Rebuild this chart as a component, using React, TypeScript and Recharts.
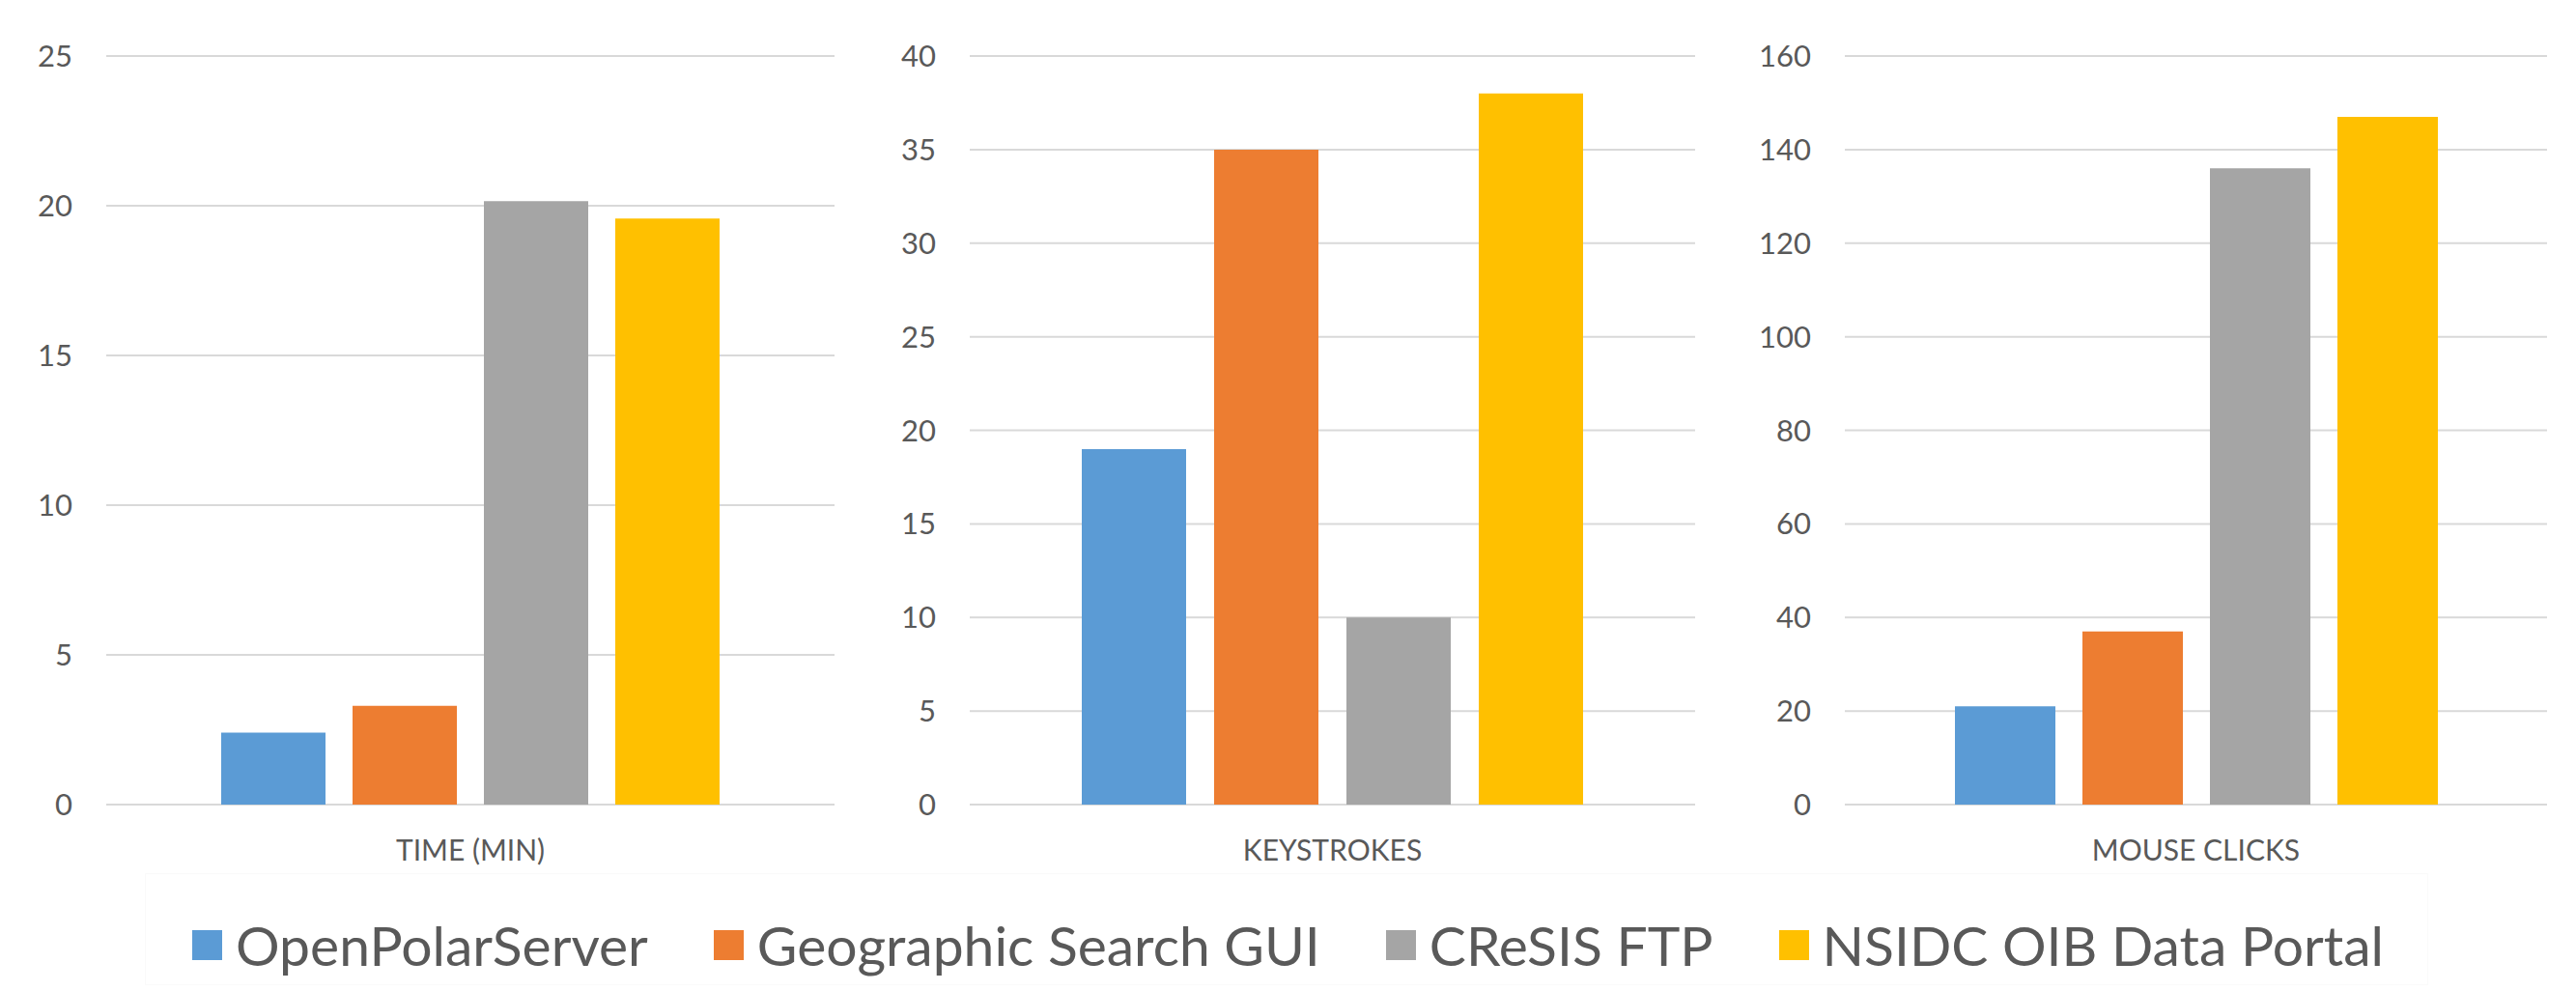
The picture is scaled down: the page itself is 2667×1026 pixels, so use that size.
import { BarChart, Bar, XAxis, YAxis, CartesianGrid } from 'recharts';

const seriesNames = ['OpenPolarServer', 'Geographic Search GUI', 'CReSIS FTP', 'NSIDC OIB Data Portal'];
const seriesKeys = ['ops', 'geo', 'cresis', 'nsidc'];
const seriesColors = ['#5b9bd5', '#ed7d31', '#a5a5a5', '#ffc000'];

const panelLabels = ['TIME (MIN)', 'KEYSTROKES', 'MOUSE CLICKS'];
const timeMin = [2.4, 3.3, 20.15, 19.57];
const keystrokes = [19, 35, 10, 38];
const mouseClicks = [21, 37, 136, 147];

const timeTicks = [0, 5, 10, 15, 20, 25];
const keystrokeTicks = [0, 5, 10, 15, 20, 25, 30, 35, 40];
const clickTicks = [0, 20, 40, 60, 80, 100, 120, 140, 160];

const TEXT = '#595959';
const FONT = 'Lato, Carlito, "Open Sans", sans-serif';

function toRow(label: string, values: number[]) {
    const row: Record<string, string | number> = { name: label };
    seriesKeys.forEach((k, i) => { row[k] = values[i]; });
    return [row];
}

interface PanelProps {
    label: string;
    values: number[];
    ticks: number[];
    axisWidth: number;
    rightMargin: number;
    barSize: number;
    barGap: number;
}

function Panel({ label, values, ticks, axisWidth, rightMargin, barSize, barGap }: PanelProps) {
    const data = toRow(label, values);
    return (
        <BarChart
            width={889}
            height={913}
            data={data}
            margin={{ top: 58, right: rightMargin, bottom: 0, left: 0 }}
            barSize={barSize}
            barGap={barGap}
        >
            <CartesianGrid vertical={false} stroke="#d9d9d9" strokeWidth={2} />
            <XAxis
                dataKey="name"
                axisLine={false}
                tickLine={false}
                tickSize={0}
                tickMargin={37}
                height={80}
                tick={{ fill: TEXT, fontSize: 30, fontFamily: FONT }}
            />
            <YAxis
                type="number"
                domain={[0, ticks[ticks.length - 1]]}
                ticks={ticks}
                interval={0}
                axisLine={false}
                tickLine={false}
                tickSize={0}
                tickMargin={35}
                width={axisWidth}
                tick={{ fill: TEXT, fontSize: 31, fontFamily: FONT }}
            />
            {seriesKeys.map((k, i) => (
                <Bar key={k} dataKey={k} name={seriesNames[i]} fill={seriesColors[i]} isAnimationActive={false} />
            ))}
        </BarChart>
    );
}

export default function App() {
    return (
        <div style={{ position: 'relative', width: 2667, height: 1026, background: '#fff', fontFamily: FONT }}>
            <style>{`body{margin:0}`}</style>
            <div style={{ display: 'flex' }}>
                <Panel label={panelLabels[0]} values={timeMin} ticks={timeTicks} axisWidth={110} rightMargin={25} barSize={108} barGap={28} />
                <Panel label={panelLabels[1]} values={keystrokes} ticks={keystrokeTicks} axisWidth={115} rightMargin={23} barSize={108} barGap={29} />
                <Panel label={panelLabels[2]} values={mouseClicks} ticks={clickTicks} axisWidth={132} rightMargin={30} barSize={104} barGap={28} />
            </div>
            {/* faint legend frame */}
            <div
                style={{
                    position: 'absolute',
                    top: 904,
                    left: 150,
                    width: 2364,
                    height: 116,
                    border: '1px solid #fafafa',
                    boxSizing: 'border-box',
                }}
            />
            <div
                style={{
                    position: 'absolute',
                    top: 944,
                    left: 0,
                    width: 2667,
                    display: 'flex',
                    justifyContent: 'center',
                    gap: 68,
                    color: TEXT,
                    fontSize: 57,
                    lineHeight: '68px',
                }}
            >
                {seriesNames.map((n, i) => (
                    <div key={n} style={{ display: 'flex', alignItems: 'center' }}>
                        <div style={{ width: 31, height: 31, background: seriesColors[i], marginRight: 14 }} />
                        <span>{n}</span>
                    </div>
                ))}
            </div>
        </div>
    );
}
